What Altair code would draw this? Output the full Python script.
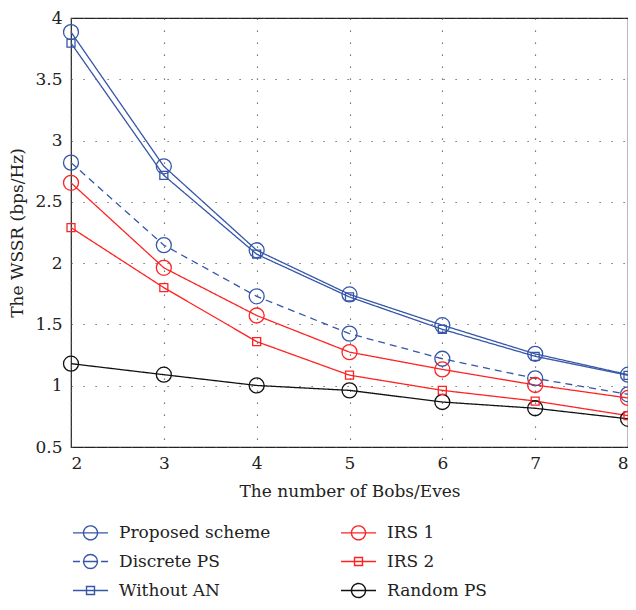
import altair as alt
import pandas as pd

bobs_eves = [2, 3, 4, 5, 6, 7, 8]
proposed_scheme = [3.885, 2.79, 2.105, 1.745, 1.494, 1.26, 1.09]
discrete_ps = [2.82, 2.147, 1.729, 1.425, 1.22, 1.06, 0.93]
without_an = [3.795, 2.716, 2.073, 1.724, 1.46, 1.24, 1.085]
irs_1 = [2.655, 1.962, 1.573, 1.274, 1.133, 1.006, 0.90]
irs_2 = [2.29, 1.80, 1.36, 1.086, 0.962, 0.875, 0.756]
random_ps = [1.18, 1.09, 1.002, 0.962, 0.867, 0.816, 0.73]

series_names = ["Proposed scheme", "Discrete PS", "Without AN", "IRS 1", "IRS 2", "Random PS"]
series_values = [proposed_scheme, discrete_ps, without_an, irs_1, irs_2, random_ps]

y_ticks = [0.5, 1, 1.5, 2, 2.5, 3, 3.5, 4]

rows = []
for name, vals in zip(series_names, series_values):
    for xv, yv in zip(bobs_eves, vals):
        rows.append({"n": xv, "wssr": yv, "series": name})
df = pd.DataFrame(rows)

BLUE = "#3556a8"
RED = "#ff2222"
BLACK = "#111111"

legend_order = series_names
color_range = [BLUE, BLUE, BLUE, RED, RED, BLACK]
dash_range = [[1, 0], [7, 5], [1, 0], [1, 0], [1, 0], [1, 0]]
circ = "M-2.5,0H2.5M1,0A1,1,0,1,1,-1,0A1,1,0,1,1,1,0Z"
sq = "M-2.5,0H2.5M-0.57,-0.57H0.57V0.57H-0.57Z"
# dashed variant: every sub-path shorter than one dash so the circle stays solid
circ_dash = (
    "M-2.5,0H-1.5M1.5,0H2.5M-1,0H0M0,0H1"
    "M1,0A1,1,0,0,1,0.7071,0.7071"
    "M0.7071,0.7071A1,1,0,0,1,0,1"
    "M0,1A1,1,0,0,1,-0.7071,0.7071"
    "M-0.7071,0.7071A1,1,0,0,1,-1,0"
    "M-1,0A1,1,0,0,1,-0.7071,-0.7071"
    "M-0.7071,-0.7071A1,1,0,0,1,0,-1"
    "M0,-1A1,1,0,0,1,0.7071,-0.7071"
    "M0.7071,-0.7071A1,1,0,0,1,1,0"
)
shape_range = [circ, circ_dash, sq, circ, sq, circ]

circle_series = ["Proposed scheme", "Discrete PS", "IRS 1", "Random PS"]
square_series = ["Without AN", "IRS 2"]

FONT = "DejaVu Serif"

legend = alt.Legend(
    orient="none", legendX=11, legendY=506, columns=2, columnPadding=67,
    rowPadding=8, symbolSize=196, symbolStrokeWidth=1.4, labelFont=FONT,
    labelFontSize=17, labelColor="#222222", labelOffset=20, title=None,
    padding=0, symbolFillColor="transparent", labelLimit=300,
)

x_enc = alt.X("n:Q", scale=alt.Scale(domain=[2, 8], nice=False),
              axis=alt.Axis(values=bobs_eves, format="d", title="The number of Bobs/Eves",
                            labelPadding=8, titlePadding=12))
y_enc = alt.Y("wssr:Q", scale=alt.Scale(domain=[0.5, 4], nice=False),
              axis=alt.Axis(values=y_ticks, format=".1~f", title="The WSSR (bps/Hz)",
                            labelPadding=9, titlePadding=8))
color_enc = alt.Color("series:N", scale=alt.Scale(domain=legend_order, range=color_range), legend=legend)

base = alt.Chart(df)

lines = base.mark_line(strokeWidth=1.3).encode(
    x=x_enc, y=y_enc, color=color_enc,
    strokeDash=alt.StrokeDash("series:N", scale=alt.Scale(domain=legend_order, range=dash_range), legend=legend),
)

circles = base.transform_filter(
    alt.FieldOneOfPredicate(field="series", oneOf=circle_series)
).mark_point(shape="circle", size=225, filled=False, strokeWidth=1.3, opacity=1).encode(
    x=x_enc, y=y_enc, color=color_enc,
)

squares = base.transform_filter(
    alt.FieldOneOfPredicate(field="series", oneOf=square_series)
).mark_point(shape="square", size=64, filled=False, strokeWidth=1.3, opacity=1).encode(
    x=x_enc, y=y_enc, color=color_enc,
)

legend_layer = base.transform_filter("false").mark_point(filled=False, opacity=1).encode(
    x=x_enc, y=y_enc, color=color_enc,
    shape=alt.Shape("series:N", scale=alt.Scale(domain=legend_order, range=shape_range), legend=legend),
)

chart = alt.layer(lines, circles, squares, legend_layer).properties(
    width=557, height=429,
    autosize=alt.AutoSizeParams(type="none"),
    padding={"left": 63, "top": 10, "right": 0, "bottom": 155},
).configure_view(
    stroke="#222222", strokeWidth=1.2,
).configure_axis(
    labelFont=FONT, labelFontSize=17, labelColor="#222222",
    titleFont=FONT, titleFontSize=17, titleFontWeight="normal", titleColor="#222222",
    gridColor="#555555", gridDash=[1.2, 10.8], gridWidth=1.2, gridOpacity=1,
    domain=False, ticks=False,
)

chart.save("out.html", embed_options={"renderer": "svg", "actions": False})
